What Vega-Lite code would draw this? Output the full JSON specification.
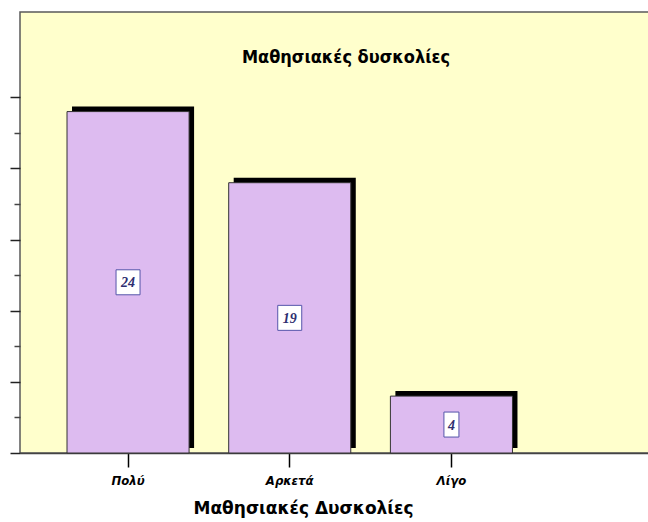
{
  "$schema": "https://vega.github.io/schema/vega-lite/v6.json",
  "width": 632,
  "height": 441,
  "autosize": {"type": "none"},
  "padding": {"left": 20, "top": 12, "right": -4, "bottom": 69},
  "background": "white",
  "config": {
    "view": {"fill": "#FFFFCC", "stroke": "#5a5a5a", "strokeWidth": 1.5}
  },
  "title": {
    "text": "Μαθησιακές δυσκολίες",
    "offset": -69,
    "baseline": "alphabetic",
    "dx": 10,
    "font": "DejaVu Sans Condensed",
    "fontSize": 18,
    "fontWeight": "bold",
    "color": "black"
  },
  "data": {
    "values": [
      {"cat": "Πολύ", "n": 24},
      {"cat": "Αρκετά", "n": 19},
      {"cat": "Λίγο", "n": 4}
    ]
  },
  "encoding": {
    "x": {
      "field": "cat",
      "type": "nominal",
      "sort": null,
      "scale": {"paddingInner": 0.245, "paddingOuter": 0.5768, "align": 0.252},
      "axis": {
        "title": "Μαθησιακές Δυσκολίες",
        "titleFont": "DejaVu Sans",
        "titleFontWeight": "bold",
        "titleFontSize": 17,
        "titleColor": "black",
        "titleX": 283,
        "titleY": 60,
        "titleBaseline": "alphabetic",
        "titleAlign": "center",
        "titleAnchor": null,
        "labelAngle": 0,
        "labelFont": "DejaVu Sans Condensed",
        "labelFontStyle": "italic",
        "labelFontWeight": "bold",
        "labelFontSize": 13,
        "labelColor": "black",
        "labelPadding": 7,
        "domainColor": "#444444",
        "domainWidth": 1.5,
        "tickColor": "black",
        "tickSize": 14,
        "tickWidth": 1.5
      }
    }
  },
  "layer": [
    {
      "mark": {"type": "bar", "color": "black", "xOffset": 5, "yOffset": -5, "y2Offset": -5},
      "encoding": {
        "y": {
          "field": "n",
          "type": "quantitative",
          "scale": {"domain": [0, 31], "nice": false, "zero": true},
          "axis": {
            "orient": "left",
            "values": [0, 5, 10, 15, 20, 25],
            "labels": false,
            "title": null,
            "grid": false,
            "domain": false,
            "tickSize": 10,
            "tickWidth": 1.5,
            "tickColor": "#222222"
          }
        }
      }
    },
    {
      "mark": {"type": "bar", "fill": "#DDBBF0", "stroke": "#333333", "strokeWidth": 1},
      "encoding": {
        "y": {
          "field": "n",
          "type": "quantitative",
          "axis": {
            "orient": "left",
            "values": [2.5, 7.5, 12.5, 17.5, 22.5],
            "labels": false,
            "title": null,
            "grid": false,
            "domain": false,
            "tickSize": 6,
            "tickWidth": 1.5,
            "tickColor": "#444444"
          }
        }
      }
    },
    {
      "transform": [{"filter": "datum.n >= 10"}, {"calculate": "datum.n / 2", "as": "mid"}],
      "mark": {
        "type": "point",
        "shape": "M-0.96,-1H0.96V1H-0.96Z",
        "size": 625,
        "filled": true,
        "fill": "white",
        "stroke": "#5555AA",
        "strokeWidth": 1,
        "opacity": 1
      },
      "encoding": {
        "y": {"field": "mid", "type": "quantitative", "axis": null}
      }
    },
    {
      "transform": [{"filter": "datum.n < 10"}, {"calculate": "datum.n / 2", "as": "mid"}],
      "mark": {
        "type": "point",
        "shape": "M-0.6,-1H0.6V1H-0.6Z",
        "size": 625,
        "filled": true,
        "fill": "white",
        "stroke": "#5555AA",
        "strokeWidth": 1,
        "opacity": 1
      },
      "encoding": {
        "y": {"field": "mid", "type": "quantitative", "axis": null}
      }
    },
    {
      "transform": [{"calculate": "datum.n / 2", "as": "mid"}],
      "mark": {
        "type": "text",
        "font": "Liberation Serif",
        "fontStyle": "italic",
        "fontWeight": "bold",
        "fontSize": 14,
        "color": "#2E2E70",
        "baseline": "middle",
        "align": "center",
        "dy": 1
      },
      "encoding": {
        "y": {"field": "mid", "type": "quantitative", "axis": null},
        "text": {"field": "n", "type": "quantitative"}
      }
    }
  ],
  "resolve": {"axis": {"y": "independent"}}
}
